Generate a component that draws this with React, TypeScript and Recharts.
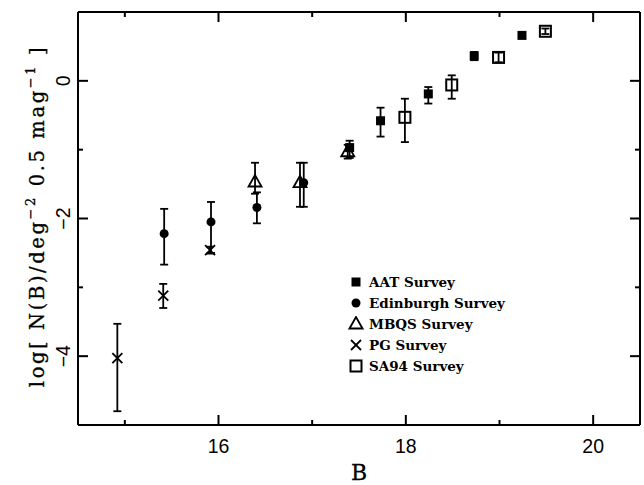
import React from 'react';
import { ScatterChart, Scatter, XAxis, YAxis, ErrorBar, Legend } from 'recharts';

// ---- data ----
const aatB = [17.40, 17.73, 18.24, 18.73, 19.24];
const aatLogN = [-0.97, -0.58, -0.19, 0.36, 0.66];
const aatErr = [[0.15, 0.1], [0.23, 0.19], [0.14, 0.10], [0.06, 0.06], [0.03, 0.03]];

const edinB = [15.42, 15.92, 16.41, 16.91];
const edinLogN = [-2.22, -2.05, -1.84, -1.48];
const edinErr = [[0.45, 0.36], [0.45, 0.29], [0.23, 0.22], [0.35, 0.29]];

const mbqsB = [16.39, 16.87, 17.38];
const mbqsLogN = [-1.47, -1.48, -1.03];
const mbqsErr = [[0.17, 0.28], [0.35, 0.29], [0.1, 0.1]];

const pgB = [14.92, 15.41, 15.91];
const pgLogN = [-4.03, -3.12, -2.46];
const pgErr = [[0.77, 0.5], [0.18, 0.17], [0.05, 0.05]];

const sa94B = [17.99, 18.49, 18.99, 19.49];
const sa94LogN = [-0.53, -0.06, 0.34, 0.72];
const sa94Err = [[0.36, 0.27], [0.2, 0.14], [0.07, 0.07], [0.04, 0.04]];

const xDomain = [14.5, 20.5];
const yDomain = [-5, 1];
const xTicks = [15, 16, 17, 18, 19, 20];
const yTicks = [-4, -3, -2, -1, 0];
const legendNames = ['AAT Survey', 'Edinburgh Survey', 'MBQS Survey', 'PG Survey', 'SA94 Survey'];

const build = (b: number[], v: number[], e: number[][]) =>
  b.map((x, i) => ({ x, y: v[i], err: e[i] }));

const aatData = build(aatB, aatLogN, aatErr);
const edinData = build(edinB, edinLogN, edinErr);
const mbqsData = build(mbqsB, mbqsLogN, mbqsErr);
const pgData = build(pgB, pgLogN, pgErr);
const sa94Data = build(sa94B, sa94LogN, sa94Err);

// ---- layout ----
const W = 644;
const H = 485;
const margin = { top: 11, right: 3, bottom: 30, left: 48 };
const xAxisH = 30;
const topAxisH = 1;
const yAxisW = 30;
const rightAxisW = 1;
const plotL = margin.left + yAxisW;
const plotR = W - margin.right - rightAxisW;
const plotT = margin.top + topAxisH;
const plotB = H - margin.bottom - xAxisH;
const fx = (v: number) => plotL + ((v - xDomain[0]) / (xDomain[1] - xDomain[0])) * (plotR - plotL);
const fy = (v: number) => plotB - ((v - yDomain[0]) / (yDomain[1] - yDomain[0])) * (plotB - plotT);

// ---- markers ----
const FilledSquare = (p: any) => <rect x={p.cx - 4.5} y={p.cy - 4.5} width={9} height={9} fill="#000" />;
const FilledCircle = (p: any) => <circle cx={p.cx} cy={p.cy} r={4.5} fill="#000" />;
const OpenTriangle = (p: any) => (
  <polygon
    points={`${p.cx},${p.cy - 7} ${p.cx - 6.5},${p.cy + 4.5} ${p.cx + 6.5},${p.cy + 4.5}`}
    fill="none" stroke="#000" strokeWidth={1.8} />
);
const Cross = (p: any) => (
  <g stroke="#000" strokeWidth={1.8}>
    <line x1={p.cx - 5} y1={p.cy - 5} x2={p.cx + 5} y2={p.cy + 5} />
    <line x1={p.cx - 5} y1={p.cy + 5} x2={p.cx + 5} y2={p.cy - 5} />
  </g>
);
const OpenSquare = (p: any) => (
  <rect x={p.cx - 5.5} y={p.cy - 5.5} width={11} height={11} fill="none" stroke="#000" strokeWidth={2} />
);

const legendShapes = [FilledSquare, FilledCircle, OpenTriangle, Cross, OpenSquare];

// ---- tick labels ----
const XTickLabel = (props: any) => {
  const x = Number(props.x);
  const y = Number(props.y);
  const v = props.payload.value;
  if (v % 2 !== 0) return <g />;
  return (
    <text x={x} y={y + 28} textAnchor="middle" fontFamily="Liberation Sans" fontSize={19.5} fill="#000">
      {v}
    </text>
  );
};

const YTickLabel = (props: any) => {
  const x = Number(props.x);
  const y = Number(props.y);
  const v = props.payload.value;
  if (v % 2 !== 0) return <g />;
  const lbl = v < 0 ? '\u2212' + Math.abs(v) : String(v);
  const tx = x - 8;
  return (
    <text x={tx} y={y} transform={`rotate(-90, ${tx}, ${y})`} textAnchor="middle"
      fontFamily="Liberation Sans" fontSize={19.5} fill="#000">
      {lbl}
    </text>
  );
};

// inward tick marks on all four sides
const TickMarks = () => (
  <g stroke="#000" strokeWidth={2} fill="none">
    {xTicks.map((t) => {
      const len = t % 2 === 0 ? 10 : 5;
      const x = fx(t);
      return (
        <g key={'x' + t}>
          <path d={`M${x},${plotB}L${x},${plotB - len}`} />
          <path d={`M${x},${plotT}L${x},${plotT + len}`} />
        </g>
      );
    })}
    {yTicks.map((t) => {
      const len = t % 2 === 0 ? 10 : 5;
      const y = fy(t);
      return (
        <g key={'y' + t}>
          <path d={`M${plotL},${y}L${plotL + len},${y}`} />
          <path d={`M${plotR},${y}L${plotR - len},${y}`} />
        </g>
      );
    })}
  </g>
);

const YLabel = () => (
  <text x={44} y={216} transform="rotate(-90, 44, 216)" textAnchor="middle"
    fontFamily="DejaVu Serif" fontSize={19.5} letterSpacing={2.6} fill="#000" stroke="#000" strokeWidth={0.3}>
    <tspan>log[ N(B)/deg</tspan>
    <tspan fontSize={13} dy={-9}>{'\u2212'}2</tspan>
    <tspan dy={9}> 0.5 mag</tspan>
    <tspan fontSize={13} dy={-9}>{'\u2212'}1</tspan>
    <tspan dy={9}> ]</tspan>
  </text>
);

const XLabel = () => (
  <text x={359} y={480} textAnchor="middle" fontFamily="DejaVu Serif" fontSize={22} fill="#000"
    stroke="#000" strokeWidth={0.3}>B</text>
);

const LegendContent = () => (
  <div style={{ fontFamily: 'DejaVu Serif', fontWeight: 'bold', fontSize: 13.5, color: '#000' }}>
    {legendNames.map((n, i) => {
      const S = legendShapes[i];
      return (
        <div key={n} style={{ display: 'flex', alignItems: 'center', height: 20.8 }}>
          <svg width={16} height={16} style={{ marginRight: 5 }}>
            <S cx={8} cy={8} />
          </svg>
          <span>{n}</span>
        </div>
      );
    })}
  </div>
);

const seriesList = [
  { name: 'AAT Survey', data: aatData, shape: FilledSquare },
  { name: 'Edinburgh Survey', data: edinData, shape: FilledCircle },
  { name: 'MBQS Survey', data: mbqsData, shape: OpenTriangle },
  { name: 'PG Survey', data: pgData, shape: Cross },
  { name: 'SA94 Survey', data: sa94Data, shape: OpenSquare },
];

const axisLine = { stroke: '#000', strokeWidth: 2 };

export default function App() {
  return (
    <div style={{ position: 'absolute', left: 0, top: 0, width: W, height: H, background: '#fff' }}>
      <ScatterChart width={W} height={H} margin={margin}>
        <XAxis xAxisId="b" type="number" dataKey="x" domain={xDomain} ticks={xTicks}
          height={xAxisH} tickSize={0} tickMargin={0}
          axisLine={axisLine} tickLine={false} tick={<XTickLabel />} interval={0} />
        <XAxis xAxisId="t" orientation="top" type="number" dataKey="x" domain={xDomain} ticks={xTicks}
          height={topAxisH} axisLine={axisLine} tickLine={false} tick={false} />
        <YAxis yAxisId="l" type="number" dataKey="y" domain={yDomain} ticks={yTicks}
          width={yAxisW} tickSize={0} tickMargin={0}
          axisLine={axisLine} tickLine={false} tick={<YTickLabel />} interval={0}
          label={{ content: () => <YLabel /> }} />
        <YAxis yAxisId="r" orientation="right" type="number" dataKey="y" domain={yDomain} ticks={yTicks}
          width={rightAxisW} axisLine={axisLine} tickLine={false} tick={false} />
        {seriesList.map((s) => (
          <Scatter key={s.name} name={s.name} data={s.data} xAxisId="b" yAxisId="l"
            shape={s.shape} isAnimationActive={false}>
            <ErrorBar dataKey="err" direction="y" width={4} stroke="#000" strokeWidth={1.8} />
          </Scatter>
        ))}
        <Scatter name="frame" data={aatData} xAxisId="t" yAxisId="r" shape={() => <g />}
          isAnimationActive={false} legendType="none" />
        <Legend layout="vertical" align="center" verticalAlign="middle"
          wrapperStyle={{ left: 348, top: 272, width: 220 }} content={() => <LegendContent />} />
      </ScatterChart>
      <svg width={W} height={H} style={{ position: 'absolute', left: 0, top: 0, pointerEvents: 'none' }}>
        <TickMarks />
        <XLabel />
      </svg>
    </div>
  );
}
